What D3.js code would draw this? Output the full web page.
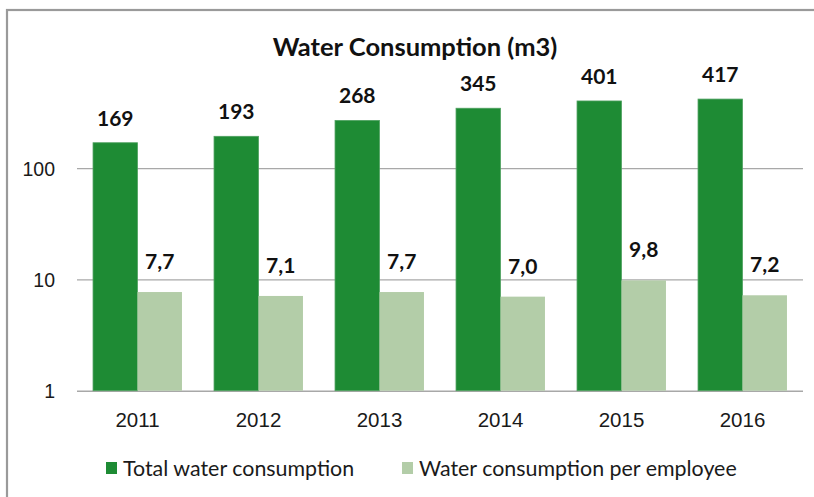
<!DOCTYPE html>
<html><head><meta charset="utf-8">
<script src="https://cdn.jsdelivr.net/npm/d3@7"></script>
<style>
html,body{margin:0;padding:0;background:#fff;}
svg{display:block;font-family:Lato,"Open Sans",sans-serif;}
</style></head>
<body>
<svg id="chart" width="814" height="497"></svg>
<script>
const title = "Water Consumption (m3)";
const years = ["2011","2012","2013","2014","2015","2016"];
const seriesNames = ["Total water consumption","Water consumption per employee"];
const totalValues = [169,193,268,345,401,417];
const perEmployeeValues = [7.7,7.1,7.7,7.0,9.8,7.2];
const perEmployeeLabels = ["7,7","7,1","7,7","7,0","9,8","7,2"];
const yTicks = [1,10,100];
const colors = ["#1e8b34","#b3cda8"];

(function(){
const svg = d3.select("#chart");
const W = 814, H = 497;

// frame
svg.append("rect").attr("x",7).attr("y",10).attr("width",W+20).attr("height",H+20)
  .attr("fill","#fff").attr("stroke","#9a9a9a").attr("stroke-width",2.2);

const pLeft = 77, pRight = 803, pTop = 56.8, pBottom = 390.7;
const y = d3.scaleLog().domain([1,1000]).range([pBottom, pTop]);
const x = d3.scaleBand().domain(years).range([pLeft,pRight]).paddingInner(0.265).paddingOuter(0.1325);
const x1 = d3.scaleBand().domain([0,1]).range([0,x.bandwidth()]);

// gridlines
const yAxis = d3.axisLeft(y).tickValues(yTicks).tickSize(-(pRight-pLeft)).tickFormat(d3.format("d")).tickPadding(22);
const ga = svg.append("g").attr("transform",`translate(${pLeft},0)`).call(yAxis);
ga.select(".domain").remove();
ga.selectAll(".tick line").attr("stroke","#a8a8a8").attr("stroke-width",1.4);
ga.selectAll(".tick text").attr("font-size","19.5px").attr("fill","#1a1a1a").attr("dy","0.36em");

const data = years.map((yr,i)=>({yr, vals:[totalValues[i],perEmployeeValues[i]], labels:[String(totalValues[i]), perEmployeeLabels[i]]}));

const g = svg.selectAll("g.cat").data(data).join("g").attr("class","cat")
  .attr("transform",d=>`translate(${x(d.yr)},0)`);

g.selectAll("rect").data(d=>d.vals.map((v,k)=>({v,k}))).join("rect")
  .attr("x",d=>x1(d.k)).attr("width",x1.bandwidth())
  .attr("y",d=>y(d.v)).attr("height",d=>y(1)-y(d.v))
  .attr("fill",d=>colors[d.k])
  .attr("stroke",d=>d.k===0?"#4fa160":"none").attr("stroke-width",0.8);

g.selectAll("text.lbl").data(d=>d.vals.map((v,k)=>({v,k,t:d.labels[k]}))).join("text")
  .attr("class","lbl")
  .attr("x",d=>x1(d.k)+x1.bandwidth()/2)
  .attr("y",d=>y(d.v)-(d.k===0?17:23))
  .attr("text-anchor","middle").attr("font-weight","bold").attr("font-size","21px").attr("fill","#111")
  .text(d=>d.t);

// x axis labels
const xa = svg.append("g").attr("transform",`translate(0,${pBottom})`).call(d3.axisBottom(x).tickSize(0).tickPadding(23));
xa.select(".domain").remove();
xa.selectAll(".tick text").attr("font-size","20.5px").attr("fill","#1a1a1a").attr("dy","0.36em").attr("y",29);

// title
svg.append("text").attr("x",(273+557)/2).attr("y",56).attr("text-anchor","middle")
  .attr("font-weight","bold").attr("font-size","25.5px").attr("fill","#111").text(title);

// legend
const legX = [106,402];
const lg = svg.selectAll("g.leg").data(seriesNames).join("g").attr("class","leg")
  .attr("transform",(d,i)=>`translate(${legX[i]},462)`);
lg.append("rect").attr("width",11).attr("height",12).attr("fill",(d,i)=>colors[i]);
lg.append("text").attr("x",17).attr("y",6).attr("dy","0.36em").attr("font-size","21.4px").attr("fill","#1a1a1a").text(d=>d);
})();
</script>
</body></html>
